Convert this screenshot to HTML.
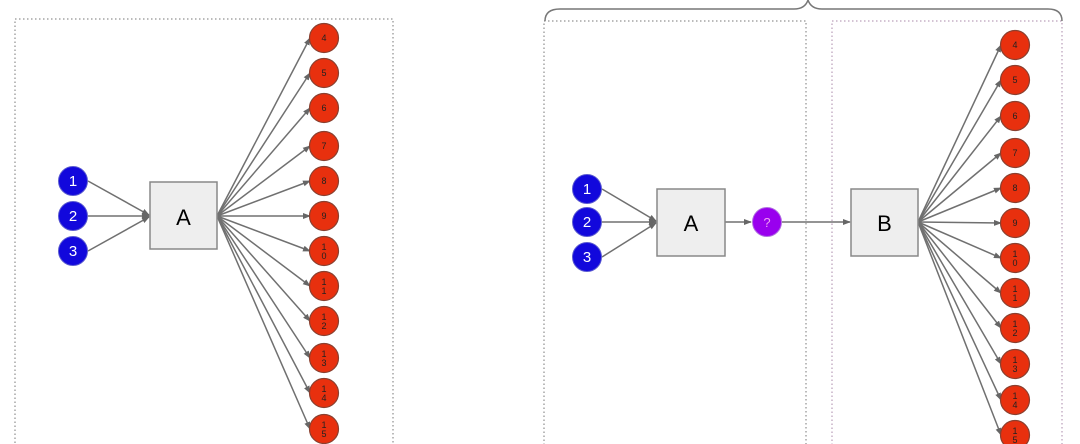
<!DOCTYPE html>
<html><head><meta charset="utf-8"><style>
html,body{margin:0;padding:0;background:#fff;width:1080px;height:444px;overflow:hidden}
svg{display:block}
text{font-family:"Liberation Sans",sans-serif}
</style></head><body>
<svg width="1080" height="444" viewBox="0 0 1080 444" xmlns="http://www.w3.org/2000/svg">
<defs>
<marker id="ar" markerWidth="8" markerHeight="8" refX="7" refY="3" orient="auto" markerUnits="userSpaceOnUse"><path d="M0,0 L8,3 L0,6 z" fill="#666"/></marker>
</defs>
<rect x="15" y="19" width="378" height="440" fill="none" stroke="#777" stroke-dasharray="1.5,2.5"/>
<rect x="544" y="21" width="262" height="440" fill="none" stroke="#777" stroke-dasharray="1.5,2.5"/>
<rect x="832" y="21" width="230" height="440" fill="none" stroke="#a8a" stroke-dasharray="1.5,2.5"/>
<path d="M545,21 Q545,9 560,9 L794,9 Q805,9 808,0 Q811,9 822,9 L1048,9 Q1062,9 1062,21" fill="none" stroke="#777" stroke-width="1.5"/>

<g stroke="#707070" stroke-width="1.5" fill="none" marker-end="url(#ar)">
<line x1="88" y1="181" x2="149" y2="215"/>
<line x1="88" y1="216" x2="149" y2="216"/>
<line x1="88" y1="251" x2="149" y2="217"/>
<line x1="217" y1="216" x2="310" y2="38"/>
<line x1="217" y1="216" x2="310" y2="73"/>
<line x1="217" y1="216" x2="310" y2="108"/>
<line x1="217" y1="216" x2="310" y2="146"/>
<line x1="217" y1="216" x2="310" y2="181"/>
<line x1="217" y1="216" x2="310" y2="216"/>
<line x1="217" y1="216" x2="310" y2="251"/>
<line x1="217" y1="216" x2="310" y2="286"/>
<line x1="217" y1="216" x2="310" y2="321"/>
<line x1="217" y1="216" x2="310" y2="358"/>
<line x1="217" y1="216" x2="310" y2="393"/>
<line x1="217" y1="216" x2="310" y2="429"/>
<line x1="602" y1="189" x2="656" y2="221"/>
<line x1="602" y1="222" x2="656" y2="222"/>
<line x1="602" y1="257" x2="656" y2="223"/>
<line x1="725" y1="222" x2="751" y2="222"/>
<line x1="782" y1="222" x2="850" y2="222"/>
<line x1="918" y1="222" x2="1001" y2="45"/>
<line x1="918" y1="222" x2="1001" y2="80"/>
<line x1="918" y1="222" x2="1001" y2="116"/>
<line x1="918" y1="222" x2="1001" y2="153"/>
<line x1="918" y1="222" x2="1001" y2="188"/>
<line x1="918" y1="222" x2="1001" y2="223"/>
<line x1="918" y1="222" x2="1001" y2="258"/>
<line x1="918" y1="222" x2="1001" y2="293"/>
<line x1="918" y1="222" x2="1001" y2="328"/>
<line x1="918" y1="222" x2="1001" y2="364"/>
<line x1="918" y1="222" x2="1001" y2="400"/>
<line x1="918" y1="222" x2="1001" y2="435"/>
</g>

<rect x="150" y="182" width="67" height="67" fill="#eee" stroke="#888" stroke-width="1.5"/>
<text x="183.5" y="225" font-size="22" text-anchor="middle">A</text>
<rect x="657" y="189" width="68" height="67" fill="#eee" stroke="#888" stroke-width="1.5"/>
<text x="691" y="231" font-size="22" text-anchor="middle">A</text>
<rect x="851" y="189" width="67" height="67" fill="#eee" stroke="#888" stroke-width="1.5"/>
<text x="884.5" y="231" font-size="22" text-anchor="middle">B</text>

<g fill="#1208dc" stroke="#5a5ad0" stroke-width="1">
<circle cx="73" cy="181" r="14.5"/><circle cx="73" cy="216" r="14.5"/><circle cx="73" cy="251" r="14.5"/>
<circle cx="587" cy="189" r="14.5"/><circle cx="587" cy="222" r="14.5"/><circle cx="587" cy="257" r="14.5"/>
</g>
<g fill="#fff" font-size="15" text-anchor="middle">
<text x="73" y="186">1</text><text x="73" y="221">2</text><text x="73" y="256">3</text>
<text x="587" y="194">1</text><text x="587" y="227">2</text><text x="587" y="262">3</text>
</g>
<circle cx="767" cy="222" r="14.5" fill="#9900ee" stroke="#b070e0"/>
<text x="767" y="227" font-size="13" fill="#f0a0f0" text-anchor="middle">?</text>

<g fill="#e8300e" stroke="#8a4030" stroke-width="1.2">
<circle cx="324" cy="38" r="14.5"/><circle cx="324" cy="73" r="14.5"/><circle cx="324" cy="108" r="14.5"/>
<circle cx="324" cy="146" r="14.5"/><circle cx="324" cy="181" r="14.5"/><circle cx="324" cy="216" r="14.5"/>
<circle cx="324" cy="251" r="14.5"/><circle cx="324" cy="286" r="14.5"/><circle cx="324" cy="321" r="14.5"/>
<circle cx="324" cy="358" r="14.5"/><circle cx="324" cy="393" r="14.5"/><circle cx="324" cy="429" r="14.5"/>
<circle cx="1015" cy="45" r="14.5"/><circle cx="1015" cy="80" r="14.5"/><circle cx="1015" cy="116" r="14.5"/>
<circle cx="1015" cy="153" r="14.5"/><circle cx="1015" cy="188" r="14.5"/><circle cx="1015" cy="223" r="14.5"/>
<circle cx="1015" cy="258" r="14.5"/><circle cx="1015" cy="293" r="14.5"/><circle cx="1015" cy="328" r="14.5"/>
<circle cx="1015" cy="364" r="14.5"/><circle cx="1015" cy="400" r="14.5"/><circle cx="1015" cy="435" r="14.5"/>
</g>
<g fill="#222" font-size="9" text-anchor="middle">
<text x="324" y="41">4</text><text x="324" y="76">5</text><text x="324" y="111">6</text>
<text x="324" y="149">7</text><text x="324" y="184">8</text><text x="324" y="219">9</text>
<text x="324" y="250">1</text><text x="324" y="259">0</text>
<text x="324" y="285">1</text><text x="324" y="294">1</text>
<text x="324" y="320">1</text><text x="324" y="329">2</text>
<text x="324" y="357">1</text><text x="324" y="366">3</text>
<text x="324" y="392">1</text><text x="324" y="401">4</text>
<text x="324" y="428">1</text><text x="324" y="437">5</text>
<text x="1015" y="48">4</text><text x="1015" y="83">5</text><text x="1015" y="119">6</text>
<text x="1015" y="156">7</text><text x="1015" y="191">8</text><text x="1015" y="226">9</text>
<text x="1015" y="257">1</text><text x="1015" y="266">0</text>
<text x="1015" y="292">1</text><text x="1015" y="301">1</text>
<text x="1015" y="327">1</text><text x="1015" y="336">2</text>
<text x="1015" y="363">1</text><text x="1015" y="372">3</text>
<text x="1015" y="399">1</text><text x="1015" y="408">4</text>
<text x="1015" y="434">1</text><text x="1015" y="443">5</text>
</g>
</svg>
</body></html>
